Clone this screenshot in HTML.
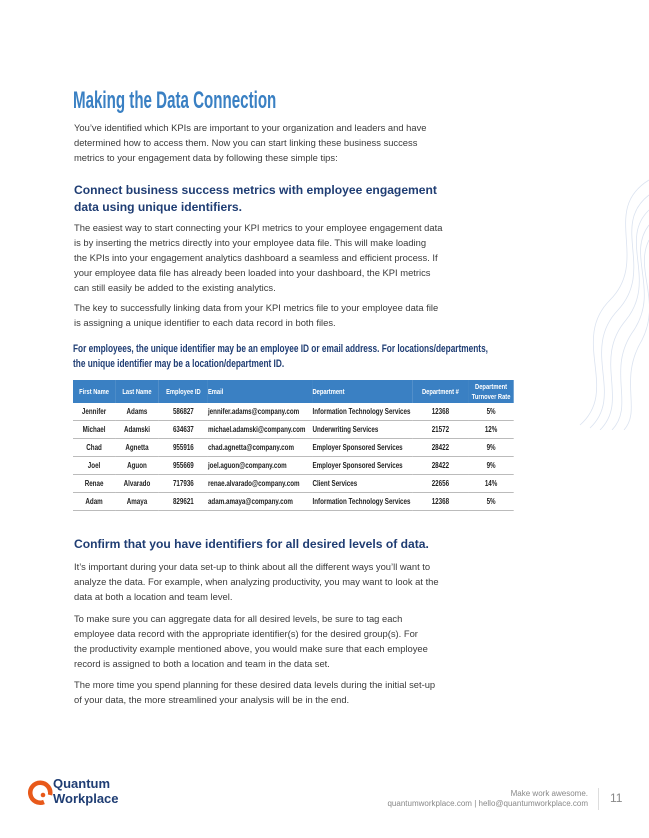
<!DOCTYPE html>
<html><head><meta charset="utf-8"><style>
body{margin:0;width:649px;height:838px;background:#fff;position:relative;overflow:hidden;font-family:"Liberation Sans",sans-serif}
.a{position:absolute;white-space:nowrap}
.p{font-size:9.4px;color:#3a3a3a;left:74px}
.n{font-weight:bold;transform-origin:0 0}
.h{font-size:12.1px;color:#1f3d73;font-weight:bold;left:74px}
table{position:absolute;left:73px;top:380px;width:565px;border-collapse:collapse;font-weight:bold;font-size:8px;color:#222;transform:scaleX(0.78);transform-origin:0 0}
th{background:#3a80c3;color:#fff;height:23px;padding:0;font-weight:bold;font-size:7.4px;line-height:10px;border:none}
td{height:17px;padding:0;border-bottom:1.3px solid #bbb;text-align:center;white-space:nowrap}
td.l,th.l{text-align:left}
</style></head><body>
<svg class="a" style="left:500px;top:170px" width="149" height="260">
<g fill="none" stroke="#dbe3f0" stroke-width="0.8">
<path d="M149 10 C100 40 150 90 110 130 C70 170 120 220 80 255"/>
<path d="M149 25 C110 55 155 100 118 140 C80 180 125 225 90 258"/>
<path d="M149 40 C118 70 158 110 126 150 C92 190 130 230 100 260"/>
<path d="M149 55 C126 85 160 120 134 160 C105 200 136 235 112 260"/>
<path d="M149 70 C134 100 162 130 142 170 C118 210 142 240 124 260"/>
</g></svg>
<div class="a n" style="left:73px;top:87px;font-size:24px;color:#3a80c3;transform:scaleX(0.63)">Making the Data Connection</div>
<div class="a p" style="top:122px">You’ve identified which KPIs are important to your organization and leaders and have</div>
<div class="a p" style="top:137px">determined how to access them. Now you can start linking these business success</div>
<div class="a p" style="top:152px">metrics to your engagement data by following these simple tips:</div>
<div class="a h" style="top:183px">Connect business success metrics with employee engagement</div>
<div class="a h" style="top:200px">data using unique identifiers.</div>
<div class="a p" style="top:222px">The easiest way to start connecting your KPI metrics to your employee engagement data</div>
<div class="a p" style="top:237px">is by inserting the metrics directly into your employee data file. This will make loading</div>
<div class="a p" style="top:252px">the KPIs into your engagement analytics dashboard a seamless and efficient process. If</div>
<div class="a p" style="top:267px">your employee data file has already been loaded into your dashboard, the KPI metrics</div>
<div class="a p" style="top:282px">can still easily be added to the existing analytics.</div>
<div class="a p" style="top:302px">The key to successfully linking data from your KPI metrics file to your employee data file</div>
<div class="a p" style="top:317px">is assigning a unique identifier to each data record in both files.</div>
<div class="a n" style="left:73px;top:343px;font-size:11.2px;color:#1f3d73;transform:scaleX(0.74)">For employees, the unique identifier may be an employee ID or email address. For locations/departments,</div>
<div class="a n" style="left:73px;top:358px;font-size:11.2px;color:#1f3d73;transform:scaleX(0.74)">the unique identifier may be a location/department ID.</div>
<table>
<colgroup><col style="width:54px"><col style="width:56px"><col style="width:63px"><col style="width:134px"><col style="width:128px"><col style="width:72px"><col style="width:58px"></colgroup>
<tr><th>First Name</th><th>Last Name</th><th>Employee ID</th><th class="l">Email</th><th class="l">Department</th><th>Department #</th><th>Department<br>Turnover Rate</th></tr>
<tr><td>Jennifer</td><td>Adams</td><td>586827</td><td class="l">jennifer.adams@company.com</td><td class="l">Information Technology Services</td><td>12368</td><td>5%</td></tr>
<tr><td>Michael</td><td>Adamski</td><td>634637</td><td class="l">michael.adamski@company.com</td><td class="l">Underwriting Services</td><td>21572</td><td>12%</td></tr>
<tr><td>Chad</td><td>Agnetta</td><td>955916</td><td class="l">chad.agnetta@company.com</td><td class="l">Employer Sponsored Services</td><td>28422</td><td>9%</td></tr>
<tr><td>Joel</td><td>Aguon</td><td>955669</td><td class="l">joel.aguon@company.com</td><td class="l">Employer Sponsored Services</td><td>28422</td><td>9%</td></tr>
<tr><td>Renae</td><td>Alvarado</td><td>717936</td><td class="l">renae.alvarado@company.com</td><td class="l">Client Services</td><td>22656</td><td>14%</td></tr>
<tr><td>Adam</td><td>Amaya</td><td>829621</td><td class="l">adam.amaya@company.com</td><td class="l">Information Technology Services</td><td>12368</td><td>5%</td></tr>
</table>
<div class="a h" style="top:537px">Confirm that you have identifiers for all desired levels of data.</div>
<div class="a p" style="top:561px">It’s important during your data set-up to think about all the different ways you’ll want to</div>
<div class="a p" style="top:576px">analyze the data. For example, when analyzing productivity, you may want to look at the</div>
<div class="a p" style="top:591px">data at both a location and team level.</div>
<div class="a p" style="top:613px">To make sure you can aggregate data for all desired levels, be sure to tag each</div>
<div class="a p" style="top:628px">employee data record with the appropriate identifier(s) for the desired group(s). For</div>
<div class="a p" style="top:643px">the productivity example mentioned above, you would make sure that each employee</div>
<div class="a p" style="top:658px">record is assigned to both a location and team in the data set.</div>
<div class="a p" style="top:679px">The more time you spend planning for these desired data levels during the initial set-up</div>
<div class="a p" style="top:694px">of your data, the more streamlined your analysis will be in the end.</div>
<svg class="a" style="left:28px;top:778px" width="26" height="28">
<path d="M16 24 A10 10 0 1 1 22 17" fill="none" stroke="#e8591a" stroke-width="4.5"/><circle cx="15" cy="17" r="2.3" fill="#e8591a"/></svg>
<div class="a" style="left:53px;top:777px;font-size:13px;line-height:14.5px;color:#1f3d73;font-weight:bold">Quantum<br>Workplace</div>
<div class="a" style="right:61px;top:789px;font-size:8px;color:#888;text-align:right">Make work awesome.</div>
<div class="a" style="right:61px;top:799px;font-size:8px;color:#888;text-align:right">quantumworkplace.com | hello@quantumworkplace.com</div>
<div class="a" style="left:598px;top:788px;width:1px;height:22px;background:#ddd"></div>
<div class="a" style="left:610px;top:791px;font-size:12px;color:#888">11</div>
</body></html>
